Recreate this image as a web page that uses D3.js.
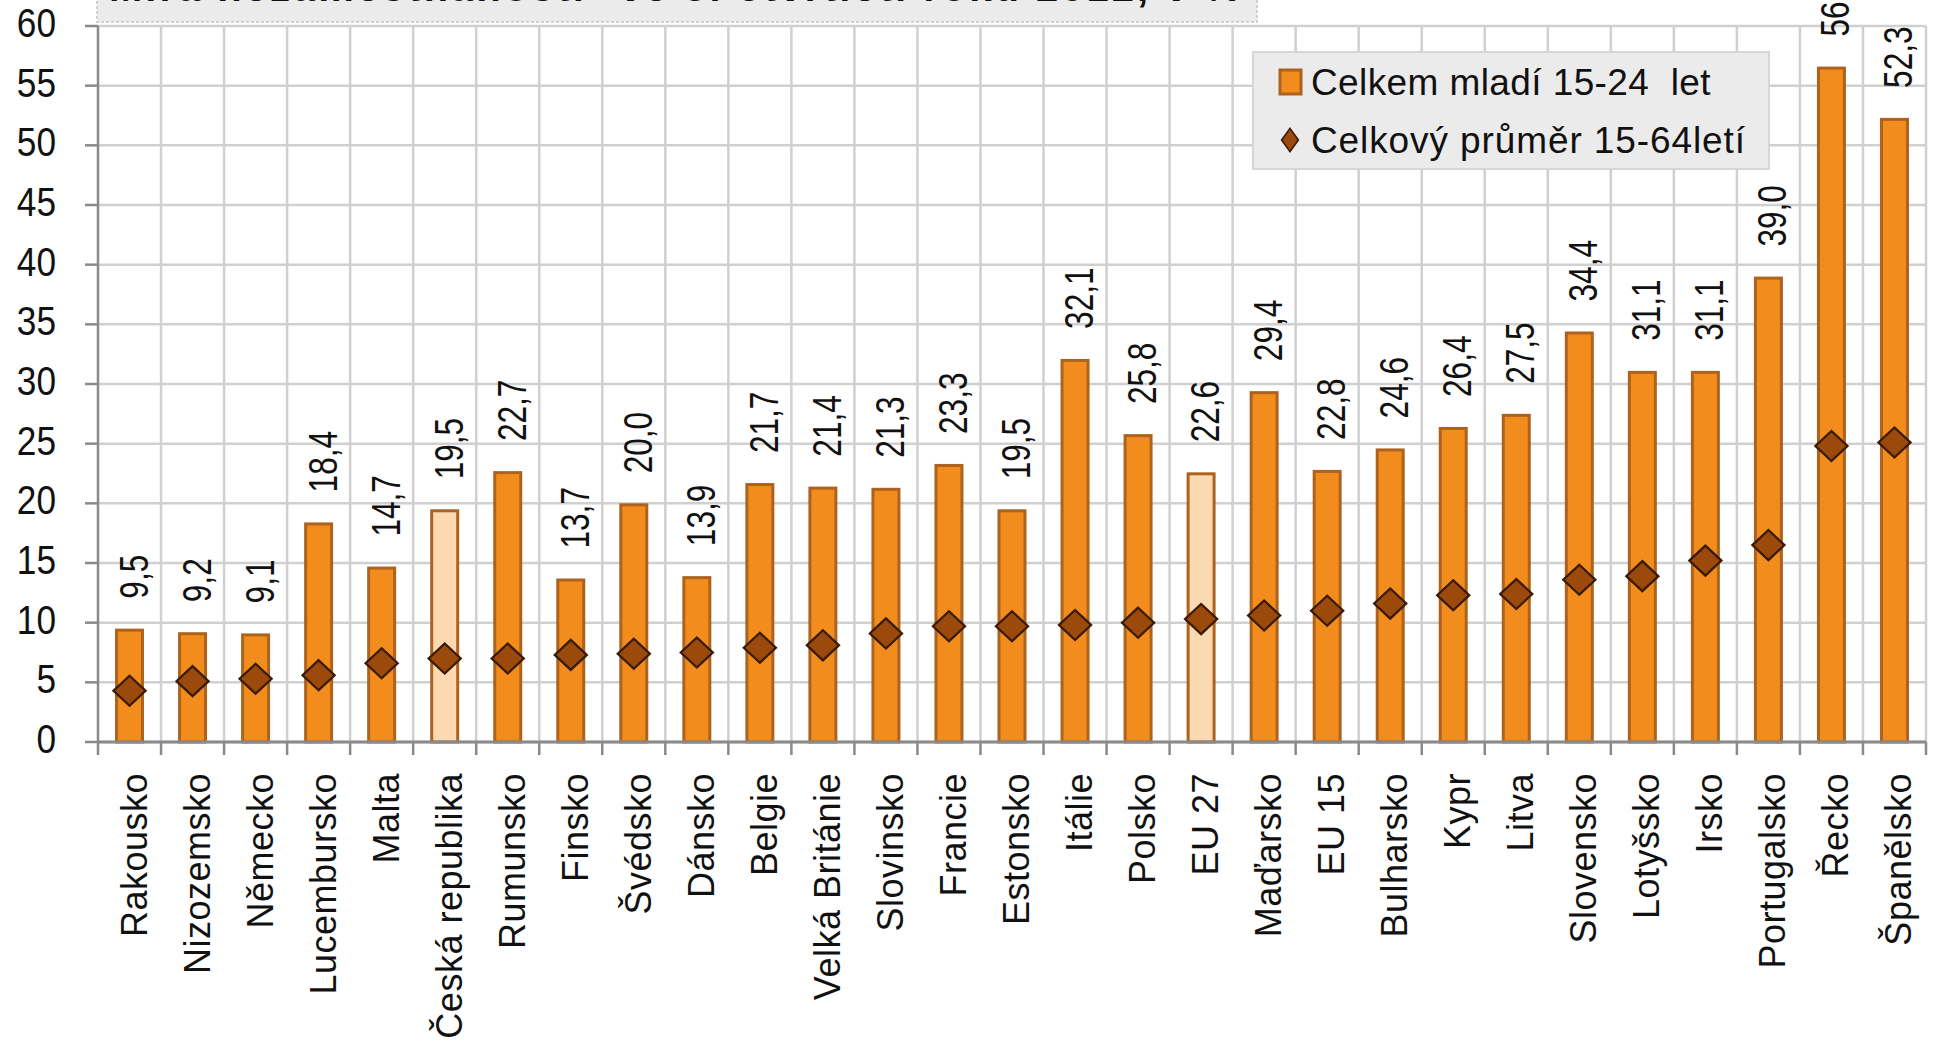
<!DOCTYPE html>
<html><head><meta charset="utf-8">
<script src="https://cdn.jsdelivr.net/npm/d3@7"></script>
<style>body{margin:0;background:#fff;overflow:hidden}svg{display:block}text{white-space:pre}</style>
</head><body><svg id="c" width="1936" height="1043"></svg>
<script>
const categories = ["Rakousko","Nizozemsko","Německo","Lucembursko","Malta","Česká republika","Rumunsko","Finsko","Švédsko","Dánsko","Belgie","Velká Británie","Slovinsko","Francie","Estonsko","Itálie","Polsko","EU 27","Maďarsko","EU 15","Bulharsko","Kypr","Litva","Slovensko","Lotyšsko","Irsko","Portugalsko","Řecko","Španělsko"];
const youth = [9.5,9.2,9.1,18.4,14.7,19.5,22.7,13.7,20.0,13.9,21.7,21.4,21.3,23.3,19.5,32.1,25.8,22.6,29.4,22.8,24.6,26.4,27.5,34.4,31.1,31.1,39.0,56.6,52.3];
const total = [4.3,5.1,5.3,5.6,6.6,7.0,7.0,7.3,7.4,7.5,7.9,8.1,9.1,9.7,9.7,9.8,10.0,10.3,10.6,11.0,11.6,12.3,12.4,13.6,13.9,15.2,16.5,24.8,25.1];
const highlighted = ["Česká republika","EU 27"];
const yTicks = [0,5,10,15,20,25,30,35,40,45,50,55,60];
const seriesNames = ["Celkem mladí 15-24  let","Celkový průměr 15-64letí"];
const titleText = "Míra nezaměstnanosti* ve 3. čtvrtletí roku 2012, v %";

const svg = d3.select("#c");
const L = 98, R = 1926, T = 26, B = 742;
const x = d3.scaleBand().domain(categories).range([L, R]).paddingInner(0.54).paddingOuter(0.27);
const y = d3.scaleLinear().domain([0, 60]).range([B, T]);
const step = x.step();
const FONT = "'Liberation Sans', Arial, sans-serif";

// title box (cut off at top)
svg.append("rect").attr("x", 97).attr("y", -40).attr("width", 1160).attr("height", 62)
  .attr("fill", "#ebebeb").attr("stroke", "#d0d0d0").attr("stroke-width", 2).attr("stroke-dasharray","3,2");
svg.append("text").attr("x", 109).attr("y", 1).attr("font-family", FONT).attr("font-weight", "bold")
  .attr("font-size", 40).attr("letter-spacing", 3).attr("fill", "#111").text(titleText);

// gridlines
const g = svg.append("g");
g.selectAll(".hg").data(yTicks).join("line")
  .attr("x1", L).attr("x2", R).attr("y1", d => y(d)).attr("y2", d => y(d))
  .attr("stroke", "#d0d0d0").attr("stroke-width", 2.5);
const bounds = categories.map(c => x(c) - step * 0.27).concat([R]);
g.selectAll(".vg").data(bounds.slice(1)).join("line")
  .attr("x1", d => d).attr("x2", d => d).attr("y1", T).attr("y2", B)
  .attr("stroke", "#d0d0d0").attr("stroke-width", 2.5);

// bars
svg.selectAll(".bar").data(categories).join("rect")
  .attr("x", d => x(d) + 1.5).attr("width", x.bandwidth() - 3)
  .attr("y", (d, i) => y(youth[i]) + 1.5).attr("height", (d, i) => B - y(youth[i]) - 1.5)
  .attr("fill", d => highlighted.includes(d) ? "#fdd9b2" : "#f28c1c")
  .attr("stroke", "#ad631e").attr("stroke-width", 3);

// axes
svg.append("line").attr("x1", L).attr("x2", R).attr("y1", B).attr("y2", B).attr("stroke", "#8a8a8a").attr("stroke-width", 3);
svg.append("line").attr("x1", L).attr("x2", L).attr("y1", T).attr("y2", B).attr("stroke", "#8a8a8a").attr("stroke-width", 2.5);
svg.selectAll(".xt").data(bounds).join("line")
  .attr("x1", d => d).attr("x2", d => d).attr("y1", B).attr("y2", B + 13)
  .attr("stroke", "#8a8a8a").attr("stroke-width", 2.5);
svg.selectAll(".yt").data(yTicks).join("line")
  .attr("x1", L - 13).attr("x2", L).attr("y1", d => y(d)).attr("y2", d => y(d))
  .attr("stroke", "#8a8a8a").attr("stroke-width", 2.5);
svg.selectAll(".yl").data(yTicks).join("text")
  .attr("transform", d => `translate(56,${y(d) + 11}) scale(0.88,1)`).attr("text-anchor", "end")
  .attr("font-family", FONT).attr("font-size", 40).attr("fill", "#111").text(d => d);

// x labels
svg.selectAll(".xl").data(categories).join("text")
  .attr("transform", d => `translate(${x(d) + x.bandwidth() / 2 + 17},${B + 31}) rotate(-90)`)
  .attr("text-anchor", "end").attr("font-family", FONT).attr("font-size", 36).attr("letter-spacing", 0.5)
  .attr("fill", "#111").text(d => d);

// value labels
svg.selectAll(".vl").data(categories).join("text")
  .attr("transform", (d, i) => `translate(${x(d) + x.bandwidth() / 2 + 18},${y(youth[i]) - 30}) rotate(-90) scale(0.79,1)`)
  .attr("text-anchor", "start").attr("font-family", FONT).attr("font-size", 40)
  .attr("fill", "#111").text((d, i) => d3.format(".1f")(youth[i]).replace(".", ","));

// diamonds
const sym = d3.symbol().type(d3.symbolDiamond2).size(574);
svg.selectAll(".dm").data(categories).join("path")
  .attr("transform", (d, i) => `translate(${x(d) + x.bandwidth() / 2},${y(total[i])}) scale(1.07,1)`)
  .attr("d", sym).attr("fill", "#9b4a0b").attr("stroke", "#3a1c06").attr("stroke-width", 2.2);

// legend
const lg = svg.append("g");
lg.append("rect").attr("x", 1253).attr("y", 52).attr("width", 516).attr("height", 117)
  .attr("fill", "#ebebeb").attr("stroke", "#d6d6d6").attr("stroke-width", 2);
lg.append("rect").attr("x", 1280).attr("y", 70).attr("width", 21).attr("height", 24)
  .attr("fill", "#f28c1c").attr("stroke", "#ad631e").attr("stroke-width", 3);
lg.append("path").attr("transform", "translate(1290,140) scale(0.9,1.25)").attr("d", d3.symbol().type(d3.symbolDiamond2).size(220))
  .attr("fill", "#9b4a0b").attr("stroke", "#3a1c06").attr("stroke-width", 1.6);
lg.selectAll(".lt").data(seriesNames).join("text")
  .attr("x", 1311).attr("y", (d, i) => [95, 153][i]).attr("font-family", FONT)
  .attr("font-size", 37).attr("letter-spacing", (d, i) => [0.4, 0.9][i]).attr("fill", "#111").text(d => d);
</script></body></html>
